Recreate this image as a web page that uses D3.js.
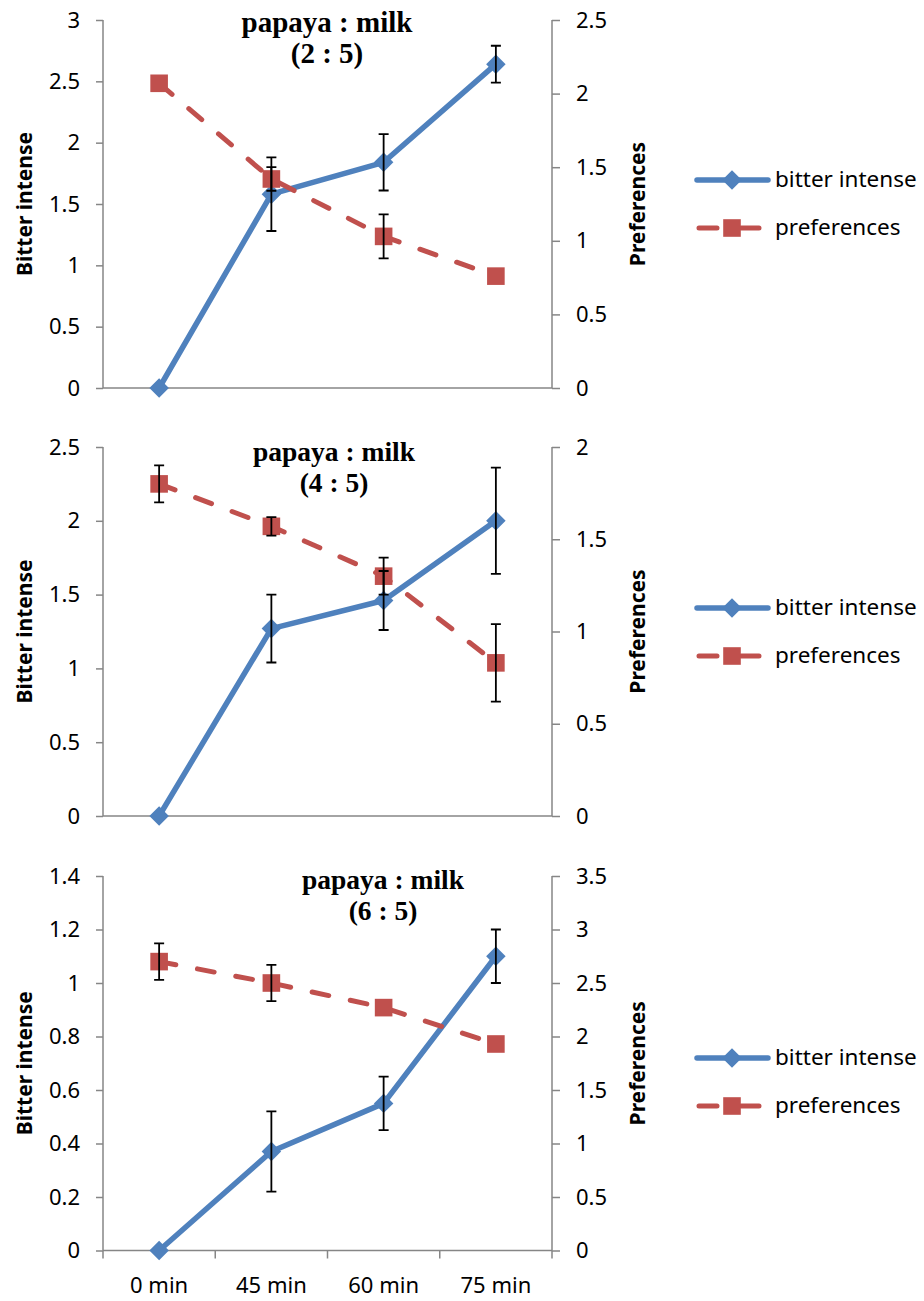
<!DOCTYPE html>
<html>
<head>
<meta charset="utf-8">
<script src="https://cdn.jsdelivr.net/npm/d3@7"></script>
<style>
  body { margin: 0; background: #fff; }
  svg { display: block; }
</style>
</head>
<body>
<div id="chart"></div>
<script>
// categories and values
const categories = ["0 min", "45 min", "60 min", "75 min"];
const ratios = ["(2 : 5)", "(4 : 5)", "(6 : 5)"];

const bitter1 = [0, 1.58, 1.84, 2.64];
const bitterErr1 = [0, 0.30, 0.23, 0.15];
const pref1 = [2.07, 1.42, 1.03, 0.76];
const prefErr1 = [0, 0.08, 0.15, 0];

const bitter2 = [0, 1.27, 1.46, 2.0];
const bitterErr2 = [0, 0.23, 0.20, 0.36];
const pref2 = [1.80, 1.57, 1.30, 0.83];
const prefErr2 = [0.10, 0.05, 0.10, 0.21];

const bitter3 = [0, 0.37, 0.55, 1.10];
const bitterErr3 = [0, 0.15, 0.10, 0.10];
const pref3 = [2.70, 2.50, 2.27, 1.93];
const prefErr3 = [0.17, 0.17, 0, 0];

const leftMax = [3, 2.5, 1.4];
const leftStep = [0.5, 0.5, 0.2];
const rightMax = [2.5, 2, 3.5];
const rightStep = [0.5, 0.5, 0.5];

const W = 924, H = 1301;
const blue = "#4F81BD", red = "#C0504D", grey = "#868686";
const sans = "'Noto Sans', sans-serif";

const svg = d3.select("#chart").append("svg")
    .attr("width", W).attr("height", H);

// layout of the three panels
const panels = [
  {top: 20, bottom: 388, b: bitter1, be: bitterErr1, p: pref1, pe: prefErr1,
   tx: 327, ty: 32, tsize: 29, legY: 180, xlabels: false},
  {top: 447, bottom: 816, b: bitter2, be: bitterErr2, p: pref2, pe: prefErr2,
   tx: 334, ty: 461, tsize: 27.5, legY: 608, xlabels: false},
  {top: 876, bottom: 1250.5, b: bitter3, be: bitterErr3, p: pref3, pe: prefErr3,
   tx: 383, ty: 889, tsize: 27.5, legY: 1058, xlabels: true}
];

const x = d3.scaleBand().domain(categories).range([103, 552]).padding(0);
const cx = d => x(d) + x.bandwidth() / 2;

function ticks(max, step) {
  const n = Math.round(max / step);
  return d3.range(n + 1).map(i => +(i * step).toFixed(2));
}

const diamond = d3.symbol(d3.symbolSquare, 190);
const square = d3.symbol(d3.symbolSquare, 310);

panels.forEach(function(cfg, k) {
  const g = svg.append("g");
  const yL = d3.scaleLinear().domain([0, leftMax[k]]).range([cfg.bottom, cfg.top]);
  const yR = d3.scaleLinear().domain([0, rightMax[k]]).range([cfg.bottom, cfg.top]);

  // left axis
  const axL = g.append("g").attr("transform", "translate(103,0)")
      .call(d3.axisLeft(yL).tickValues(ticks(leftMax[k], leftStep[k]))
        .tickSize(7).tickPadding(16).tickFormat(d3.format("~g")));
  // right axis
  const axR = g.append("g").attr("transform", "translate(552,0)")
      .call(d3.axisRight(yR).tickValues(ticks(rightMax[k], rightStep[k]))
        .tickSize(8).tickPadding(16).tickFormat(d3.format("~g")));
  // bottom axis
  const axB = g.append("g").attr("transform", "translate(0," + cfg.bottom + ")")
      .call(d3.axisBottom(x).tickValues(cfg.xlabels ? categories : [])
        .tickSize(0).tickPadding(27));
  [axL, axR, axB].forEach(a => {
    a.select(".domain").attr("stroke", grey).attr("stroke-width", 1.5);
    a.selectAll(".tick line").attr("stroke", grey).attr("stroke-width", 1.5);
    a.selectAll("text").attr("font-family", sans).attr("font-size", 22)
      .attr("fill", "#000");
  });
  axL.select(".domain").attr("d", "M0," + cfg.top + "V" + cfg.bottom);
  axR.select(".domain").attr("d", "M0," + cfg.top + "V" + cfg.bottom);
  axB.select(".domain").attr("d", "M103,0H552");
  if (cfg.xlabels) {
    // category boundary ticks
    axB.selectAll(".bnd").data(d3.range(categories.length + 1)).enter()
      .append("line").attr("class", "bnd")
      .attr("x1", i => 103 + i * x.bandwidth()).attr("x2", i => 103 + i * x.bandwidth())
      .attr("y1", 0).attr("y2", 8)
      .attr("stroke", grey).attr("stroke-width", 1.5);
  }

  // axis titles
  g.append("text")
    .attr("transform", "translate(32," + (cfg.top + cfg.bottom) / 2 + ") rotate(-90)")
    .attr("text-anchor", "middle")
    .attr("font-family", sans).attr("font-weight", "bold").attr("font-size", 21)
    .text("Bitter intense");
  g.append("text")
    .attr("transform", "translate(645," + (cfg.top + cfg.bottom) / 2 + ") rotate(-90)")
    .attr("text-anchor", "middle")
    .attr("font-family", sans).attr("font-weight", "bold").attr("font-size", 21)
    .text("Preferences");

  // chart title
  const t = g.append("text")
    .attr("text-anchor", "middle")
    .attr("font-family", "'Liberation Serif', 'Times New Roman', serif")
    .attr("font-weight", "bold").attr("font-size", cfg.tsize);
  t.append("tspan").attr("x", cfg.tx).attr("y", cfg.ty).text("papaya : milk");
  t.append("tspan").attr("x", cfg.tx).attr("y", cfg.ty + 31).text(ratios[k]);

  // bitter series
  const lineB = d3.line().x((d, i) => cx(categories[i])).y(d => yL(d));
  g.append("path").datum(cfg.b).attr("d", lineB)
    .attr("fill", "none").attr("stroke", blue).attr("stroke-width", 5.5)
    .attr("stroke-linejoin", "round");
  g.selectAll(".dia").data(cfg.b).enter().append("path")
    .attr("d", diamond)
    .attr("transform", (d, i) => "translate(" + cx(categories[i]) + "," + yL(d) + ") rotate(45)")
    .attr("fill", blue);

  // preference series
  const lineP = d3.line().x((d, i) => cx(categories[i])).y(d => yR(d));
  g.append("path").datum(cfg.p).attr("d", lineP)
    .attr("fill", "none").attr("stroke", red).attr("stroke-width", 5)
    .attr("stroke-dasharray", "17,22").attr("stroke-linecap", "round");
  g.selectAll(".sq").data(cfg.p).enter().append("path")
    .attr("d", square)
    .attr("transform", (d, i) => "translate(" + cx(categories[i]) + "," + yR(d) + ")")
    .attr("fill", red);

  // error bars
  function errBars(vals, errs, y) {
    vals.forEach(function(v, i) {
      if (!errs[i]) return;
      const xx = cx(categories[i]);
      const y1 = y(v + errs[i]), y2 = y(v - errs[i]);
      g.append("path")
        .attr("d", "M" + xx + "," + y1 + "V" + y2 +
          "M" + (xx - 5) + "," + y1 + "H" + (xx + 5) +
          "M" + (xx - 5) + "," + y2 + "H" + (xx + 5))
        .attr("fill", "none").attr("stroke", "#000").attr("stroke-width", 1.8);
    });
  }
  errBars(cfg.b, cfg.be, yL);
  errBars(cfg.p, cfg.pe, yR);

  // legend
  const ly = cfg.legY, ly2 = cfg.legY + 48;
  g.append("line").attr("x1", 697).attr("x2", 768).attr("y1", ly).attr("y2", ly)
    .attr("stroke", blue).attr("stroke-width", 5.5).attr("stroke-linecap", "round");
  g.append("path").attr("d", diamond)
    .attr("transform", "translate(732," + ly + ") rotate(45)").attr("fill", blue);
  g.append("text").attr("x", 775).attr("y", ly).attr("dy", "0.33em")
    .attr("font-family", sans).attr("font-size", 22.5).text("bitter intense");
  g.append("line").attr("x1", 699).attr("x2", 759).attr("y1", ly2).attr("y2", ly2)
    .attr("stroke", red).attr("stroke-width", 5).attr("stroke-linecap", "round")
    .attr("stroke-dasharray", "18,24,18");
  g.append("path").attr("d", square)
    .attr("transform", "translate(732," + ly2 + ")").attr("fill", red);
  g.append("text").attr("x", 775).attr("y", ly2).attr("dy", "0.33em")
    .attr("font-family", sans).attr("font-size", 22.5).text("preferences");
});
</script>
</body>
</html>
